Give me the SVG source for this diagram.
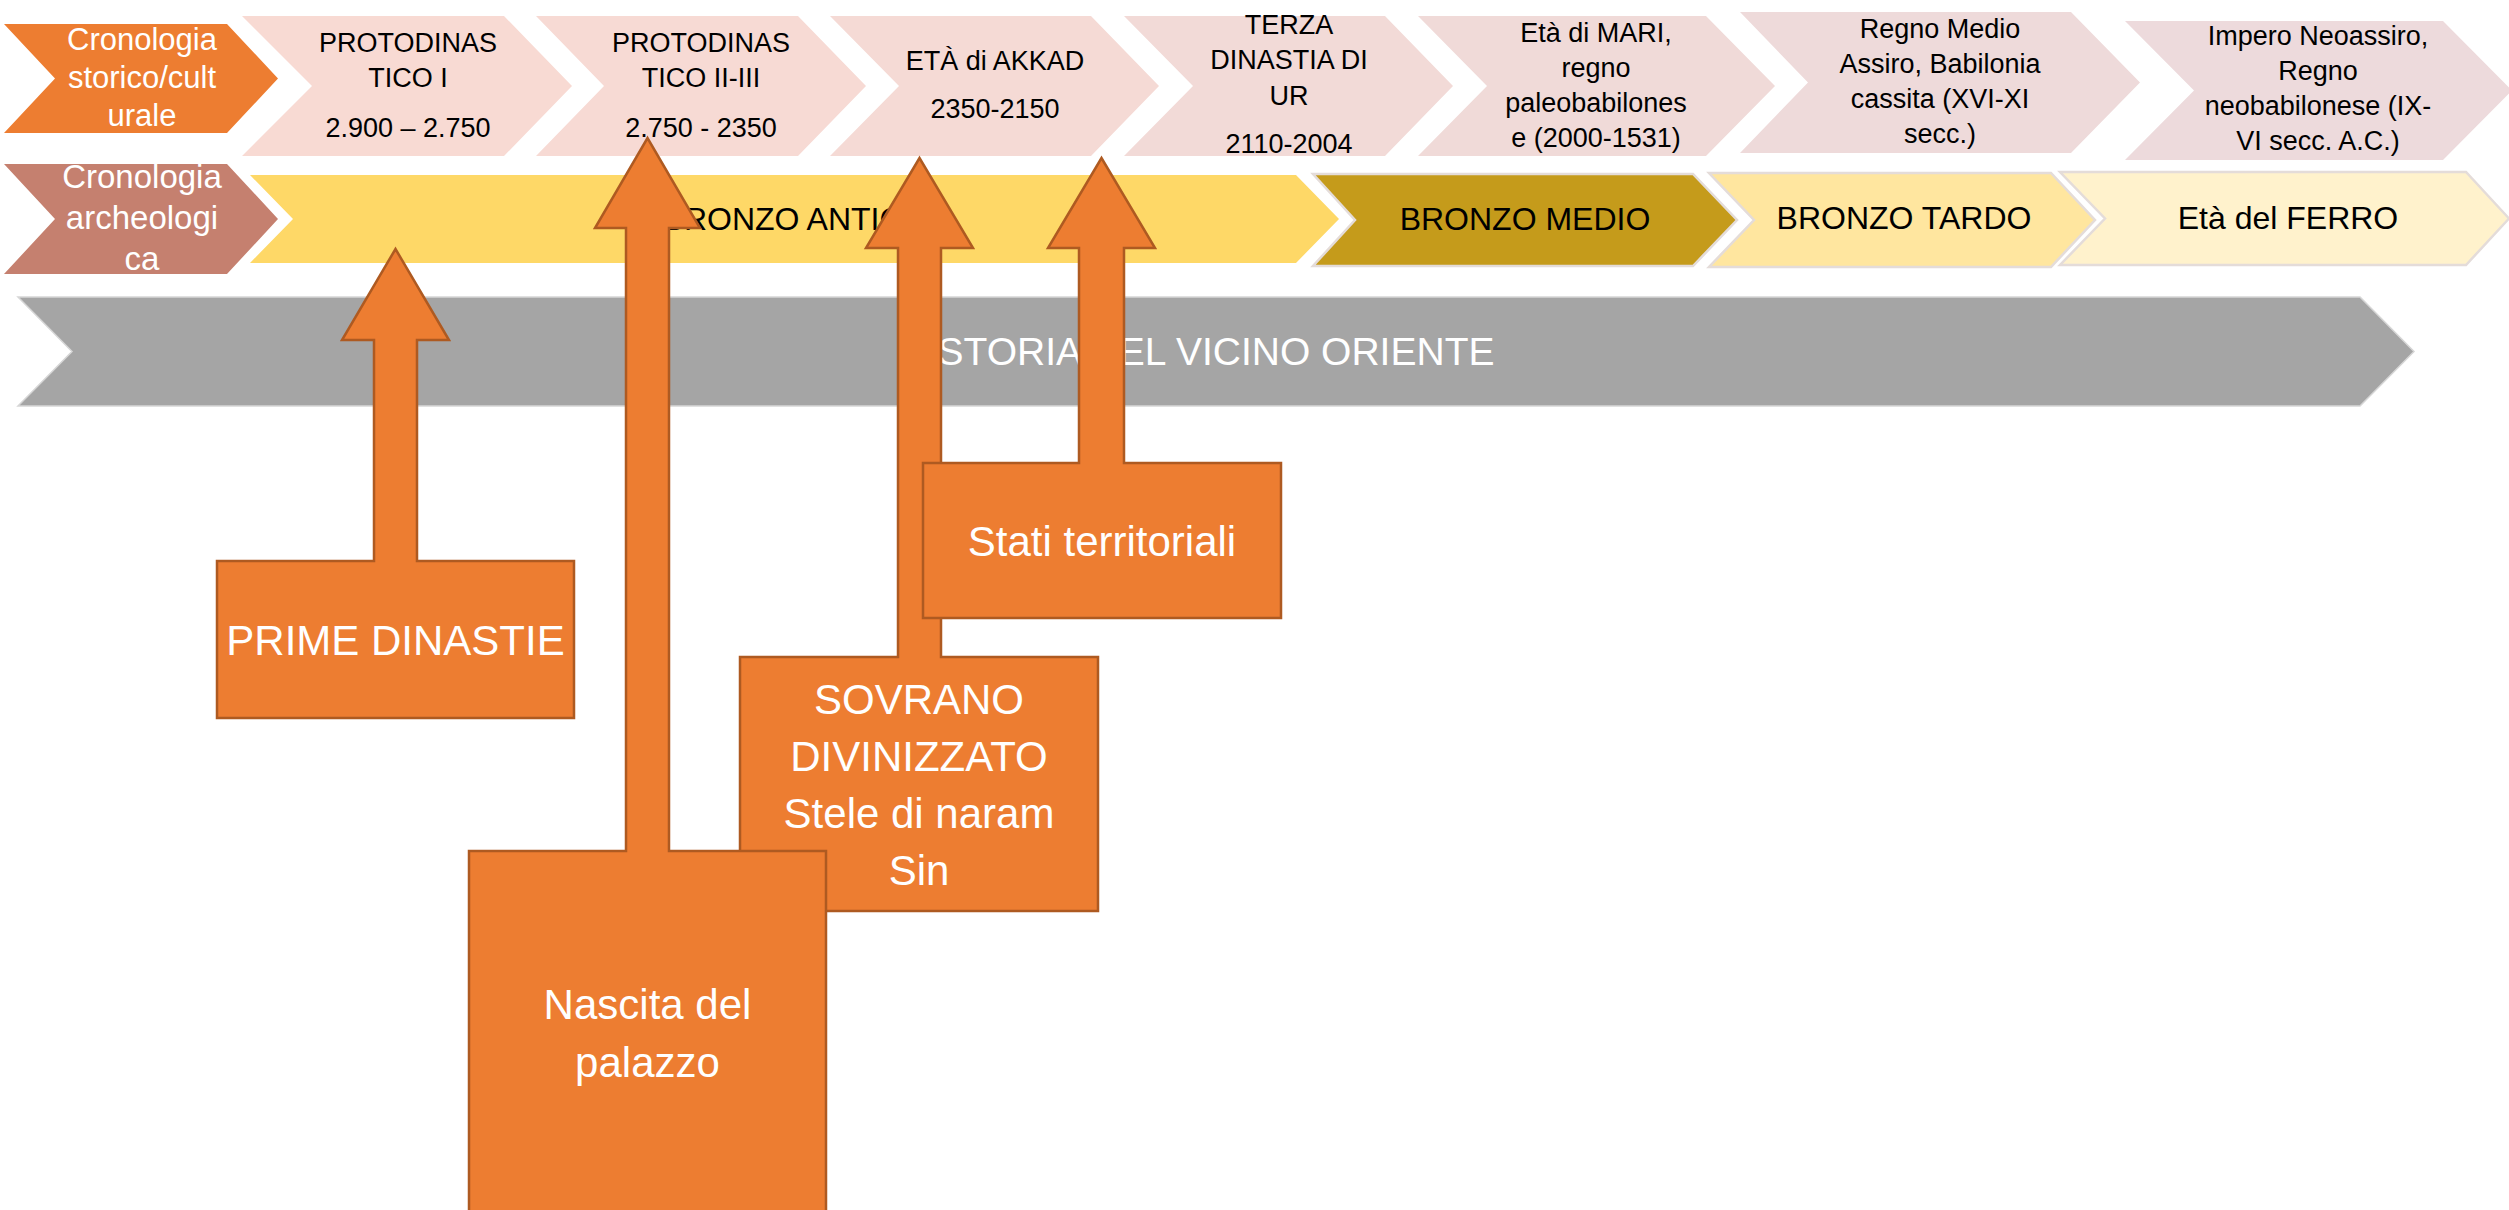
<svg xmlns="http://www.w3.org/2000/svg" width="2509" height="1210" viewBox="0 0 2509 1210">
<style>
text{font-family:"Liberation Sans",Arial,sans-serif;text-anchor:middle}
.top{font-size:27px;fill:#000}
.bz{font-size:32px;fill:#000}
.wh{fill:#fff}
.call{fill:#ED7D31;stroke:#AE5A21;stroke-width:2.5;stroke-linejoin:miter}
.bt{font-size:42px;fill:#fff}
.lb{stroke:#E4DCD9;stroke-width:2.5}
</style>
<rect width="2509" height="1210" fill="#fff"/>
<g id="n-cron-storico">
<polygon points="4,24 227,24 278,78.5 227,133 4,133 55,78.5" fill="#ED7D31"/>
<text class="wh" font-size="31" x="142" y="50">Cronologia</text>
<text class="wh" font-size="31" x="142" y="88">storico/cult</text>
<text class="wh" font-size="31" x="142" y="126">urale</text>
</g>
<g id="n-cron-arch">
<polygon points="4,164 227,164 278,219 227,274 4,274 55,219" fill="#C5806F"/>
<text class="wh" font-size="33" x="142" y="188">Cronologia</text>
<text class="wh" font-size="33" x="142" y="229">archeologi</text>
<text class="wh" font-size="33" x="142" y="270">ca</text>
</g>
<g id="n-proto1">
<polygon points="242,16 504,16 572,86 504,156 242,156 312,86" fill="#F8DAD3"/>
<text class="top" x="408" y="52">PROTODINAS</text>
<text class="top" x="408" y="87">TICO I</text>
<text class="top" x="408" y="137">2.900 – 2.750</text>
</g>
<g id="n-proto2">
<polygon points="536,16 798,16 866,86 798,156 536,156 604,86" fill="#F7DAD4"/>
<text class="top" x="701" y="52">PROTODINAS</text>
<text class="top" x="701" y="87">TICO II-III</text>
<text class="top" x="701" y="137">2.750 - 2350</text>
</g>
<g id="n-akkad">
<polygon points="830,16 1091,16 1159,86 1091,156 830,156 899,86" fill="#F5DAD5"/>
<text class="top" x="995" y="70">ETÀ di AKKAD</text>
<text class="top" x="995" y="118">2350-2150</text>
</g>
<g id="n-ur">
<polygon points="1124,16 1385,16 1453,86 1385,156 1124,156 1193,86" fill="#F2DAD7"/>
<text class="top" x="1289" y="34">TERZA</text>
<text class="top" x="1289" y="69">DINASTIA DI</text>
<text class="top" x="1289" y="105">UR</text>
<text class="top" x="1289" y="153">2110-2004</text>
</g>
<g id="n-mari">
<polygon points="1418,16 1706,16 1775,86 1706,156 1418,156 1487,86" fill="#F0DAD8"/>
<text class="top" x="1596" y="42">Età di MARI,</text>
<text class="top" x="1596" y="77">regno</text>
<text class="top" x="1596" y="112">paleobabilones</text>
<text class="top" x="1596" y="147">e (2000-1531)</text>
</g>
<g id="n-medioassiro">
<polygon points="1740,12 2071,12 2140,82.5 2071,153 1740,153 1808,82.5" fill="#EEDADA"/>
<text class="top" x="1940" y="38">Regno Medio</text>
<text class="top" x="1940" y="73">Assiro, Babilonia</text>
<text class="top" x="1940" y="108">cassita (XVI-XI</text>
<text class="top" x="1940" y="143">secc.)</text>
</g>
<g id="n-neoassiro">
<polygon points="2125,21 2443,21 2512,90.5 2443,160 2125,160 2194,90.5" fill="#EDDADC"/>
<text class="top" x="2318" y="45">Impero Neoassiro,</text>
<text class="top" x="2318" y="80">Regno</text>
<text class="top" x="2318" y="115">neobabilonese (IX-</text>
<text class="top" x="2318" y="150">VI secc. A.C.)</text>
</g>
<g id="n-bronzo-antico">
<polygon points="250,175 1296,175 1339,219 1296,263 250,263 293,219" fill="#FED867"/>
<text class="bz" x="795" y="230">BRONZO ANTICO</text>
</g>
<g id="n-bronzo-medio">
<polygon class="lb" points="1313,174 1693,174 1737,220 1693,266 1313,266 1355,220" fill="#C59B1B"/>
<text class="bz" x="1525" y="230">BRONZO MEDIO</text>
</g>
<g id="n-bronzo-tardo">
<polygon class="lb" points="1709,173 2051,173 2095,220 2051,267 1709,267 1754,220" fill="#FFE69F"/>
<text class="bz" font-size="31" x="1904" y="229">BRONZO TARDO</text>
</g>
<g id="n-ferro">
<polygon class="lb" points="2060,172 2466,172 2509,218.5 2466,265 2060,265 2105,218.5" fill="#FFF2CC"/>
<text class="bz" font-size="31" x="2288" y="229">Età del FERRO</text>
</g>
<g id="n-storia">
<polygon points="18,297 2360,297 2414,351.5 2360,406 18,406 72,351.5" fill="#A5A5A5" stroke="#D6D6D6" stroke-width="1.5"/>
<text class="wh" font-size="39" x="1216" y="365">STORIA DEL VICINO ORIENTE</text>
</g>
<g id="connectors"></g>
<g id="n-prime-dinastie">
<path class="call" d="M217,561 H374 V340 H342 L395.5,249 L449,340 H417 V561 H574 V718 H217 Z"/>
<text class="bt" x="395.5" y="655">PRIME DINASTIE</text>
</g>
<g id="n-sovrano">
<path class="call" d="M740,657 H898 V248 H866 L919.5,158 L973,248 H941 V657 H1098 V911 H740 Z"/>
<text class="bt" x="919" y="714">SOVRANO</text>
<text class="bt" x="919" y="771">DIVINIZZATO</text>
<text class="bt" x="919" y="828">Stele di naram</text>
<text class="bt" x="919" y="885">Sin</text>
</g>
<g id="n-stati">
<path class="call" d="M923,463 H1079 V248 H1048 L1101.5,158 L1155,248 H1124 V463 H1281 V618 H923 Z"/>
<text class="bt" x="1102" y="556">Stati territoriali</text>
</g>
<g id="n-palazzo">
<path class="call" d="M469,851 H626 V228 H595 L647.5,138 L700,228 H669 V851 H826 V1216 H469 Z"/>
<text class="bt" x="647.5" y="1019">Nascita del</text>
<text class="bt" x="647.5" y="1077">palazzo</text>
</g>
</svg>
